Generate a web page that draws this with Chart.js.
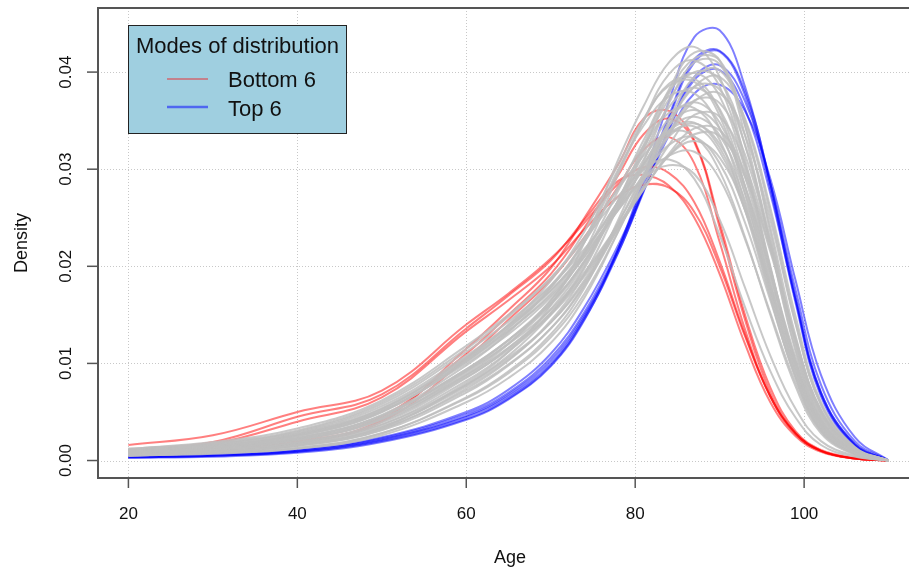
<!DOCTYPE html>
<html>
<head>
<meta charset="utf-8">
<script src="https://cdn.jsdelivr.net/npm/chart.js@4"></script>
<style>
  html, body { margin: 0; padding: 0; background: #fff; overflow: hidden; }
  canvas { display: block; }
</style>
</head>
<body>
<canvas id="plot" width="930" height="569"></canvas>
<script>
// Age grid shared by every density curve
const AGES = [20, 30, 40, 50, 60, 65, 70, 74, 78, 81, 84, 87, 90, 93, 96, 99, 102, 106, 110];

// Remaining groups, drawn in grey underneath
const grayDensities = [
  [.0006,.0009,.0016,.0034,.0080,.0112,.0160,.0225,.0310,.0365,.0410,.0426,.0395,.0310,.0200,.0100,.0036,.0008,.0000],
  [.0006,.0009,.0016,.0034,.0078,.0108,.0150,.0198,.0268,.0325,.0382,.0420,.0412,.0335,.0222,.0112,.0042,.0009,.0000],
  [.0005,.0008,.0013,.0028,.0065,.0092,.0130,.0178,.0248,.0308,.0368,.0410,.0408,.0345,.0240,.0128,.0050,.0011,.0000],
  [.0007,.0011,.0019,.0040,.0088,.0120,.0165,.0215,.0295,.0350,.0398,.0412,.0385,.0305,.0198,.0098,.0036,.0008,.0000],
  [.0005,.0007,.0012,.0026,.0060,.0085,.0121,.0168,.0236,.0292,.0350,.0395,.0402,.0350,.0255,.0142,.0058,.0013,.0000],
  [.0008,.0012,.0021,.0043,.0092,.0124,.0165,.0213,.0278,.0330,.0380,.0399,.0375,.0300,.0198,.0102,.0038,.0008,.0000],
  [.0008,.0013,.0023,.0047,.0098,.0132,.0178,.0225,.0298,.0350,.0388,.0393,.0360,.0282,.0182,.0092,.0034,.0007,.0000],
  [.0006,.0009,.0015,.0031,.0070,.0098,.0136,.0182,.0245,.0296,.0346,.0385,.0382,.0325,.0228,.0122,.0047,.0010,.0000],
  [.0007,.0011,.0019,.0039,.0085,.0116,.0156,.0203,.0266,.0316,.0364,.0384,.0362,.0292,.0195,.0100,.0037,.0008,.0000],
  [.0009,.0014,.0025,.0050,.0102,.0136,.0178,.0228,.0300,.0345,.0375,.0378,.0342,.0265,.0170,.0085,.0031,.0007,.0000],
  [.0006,.0010,.0017,.0035,.0076,.0104,.0142,.0186,.0245,.0292,.0338,.0371,.0368,.0315,.0225,.0124,.0049,.0011,.0000],
  [.0008,.0012,.0021,.0043,.0090,.0121,.0160,.0205,.0264,.0310,.0352,.0369,.0348,.0283,.0192,.0100,.0038,.0008,.0000],
  [.0010,.0015,.0027,.0053,.0106,.0139,.0180,.0225,.0282,.0324,.0358,.0363,.0330,.0258,.0168,.0085,.0031,.0007,.0000],
  [.0007,.0010,.0018,.0037,.0078,.0106,.0142,.0184,.0239,.0283,.0325,.0356,.0354,.0305,.0220,.0123,.0050,.0012,.0000],
  [.0009,.0013,.0023,.0046,.0094,.0124,.0162,.0205,.0260,.0302,.0340,.0354,.0335,.0275,.0190,.0102,.0040,.0009,.0000],
  [.0010,.0015,.0026,.0051,.0102,.0133,.0172,.0214,.0267,.0306,.0340,.0348,.0322,.0262,.0178,.0094,.0036,.0008,.0000],
  [.0008,.0012,.0021,.0042,.0086,.0114,.0150,.0190,.0240,.0279,.0316,.0342,.0340,.0296,.0218,.0125,.0052,.0012,.0000],
  [.0011,.0016,.0028,.0054,.0106,.0137,.0175,.0216,.0267,.0305,.0337,.0344,.0318,.0258,.0175,.0092,.0035,.0008,.0000],
  [.0012,.0018,.0031,.0060,.0115,.0148,.0188,.0230,.0280,.0314,.0338,.0334,.0298,.0230,.0150,.0076,.0028,.0006,.0000],
  [.0010,.0015,.0027,.0053,.0104,.0134,.0170,.0210,.0258,.0294,.0325,.0333,.0306,.0245,.0165,.0086,.0032,.0007,.0000],
  [.0012,.0019,.0033,.0062,.0118,.0150,.0188,.0228,.0272,.0300,.0310,.0290,.0232,.0158,.0092,.0044,.0016,.0004,.0000],
  [.0011,.0017,.0030,.0058,.0112,.0143,.0180,.0218,.0261,.0290,.0304,.0295,.0248,.0178,.0108,.0053,.0020,.0005,.0000],
  [.0009,.0013,.0023,.0046,.0092,.0120,.0155,.0194,.0243,.0280,.0314,.0329,.0312,.0258,.0180,.0098,.0039,.0009,.0000],
  [.0011,.0017,.0029,.0056,.0108,.0139,.0175,.0213,.0258,.0290,.0314,.0318,.0290,.0228,.0152,.0080,.0030,.0007,.0000],
  [.0006,.0009,.0015,.0032,.0074,.0103,.0144,.0192,.0262,.0320,.0378,.0414,.0412,.0345,.0235,.0120,.0045,.0010,.0000],
  [.0007,.0010,.0018,.0037,.0082,.0112,.0152,.0200,.0268,.0322,.0372,.0400,.0392,.0325,.0222,.0115,.0043,.0009,.0000],
  [.0006,.0009,.0016,.0033,.0072,.0099,.0136,.0180,.0240,.0288,.0335,.0370,.0378,.0335,.0248,.0140,.0057,.0013,.0000],
  [.0009,.0013,.0023,.0046,.0094,.0124,.0162,.0206,.0262,.0305,.0345,.0361,.0342,.0282,.0196,.0106,.0042,.0009,.0000],
  [.0008,.0012,.0022,.0044,.0088,.0116,.0152,.0192,.0242,.0280,.0314,.0336,.0334,.0292,.0215,.0124,.0052,.0012,.0000],
  [.0009,.0014,.0025,.0050,.0104,.0140,.0185,.0236,.0305,.0352,.0386,.0390,.0355,.0275,.0175,.0088,.0032,.0007,.0000],
  [.0005,.0008,.0013,.0028,.0064,.0090,.0127,.0172,.0236,.0290,.0345,.0385,.0395,.0352,.0260,.0148,.0060,.0014,.0000],
  [.0010,.0015,.0026,.0051,.0100,.0130,.0168,.0210,.0262,.0300,.0334,.0347,.0326,.0268,.0185,.0100,.0039,.0009,.0000],
];

// Bottom 6 by modal age
const bottomDensities = [
  [.0009,.0010,.0019,.0042,.0115,.0155,.0198,.0250,.0305,.0352,.0360,.0330,.0245,.0150,.0075,.0030,.0011,.0003,.0000],
  [.0010,.0011,.0021,.0045,.0110,.0150,.0192,.0240,.0294,.0336,.0352,.0328,.0240,.0145,.0070,.0028,.0010,.0002,.0000],
  [.0009,.0011,.0018,.0040,.0105,.0145,.0186,.0230,.0282,.0320,.0333,.0306,.0225,.0135,.0066,.0027,.0010,.0002,.0000],
  [.0016,.0026,.0050,.0072,.0140,.0172,.0208,.0245,.0285,.0302,.0296,.0266,.0205,.0130,.0066,.0028,.0010,.0002,.0000],
  [.0011,.0019,.0045,.0068,.0136,.0170,.0206,.0248,.0288,.0294,.0283,.0250,.0192,.0120,.0060,.0025,.0009,.0002,.0000],
  [.0009,.0017,.0040,.0065,.0133,.0165,.0200,.0238,.0272,.0284,.0281,.0256,.0200,.0128,.0066,.0028,.0010,.0002,.0000],
];

// Top 6 by modal age
const topDensities = [
  [.0003,.0004,.0008,.0019,.0042,.0063,.0097,.0145,.0218,.0290,.0370,.0436,.0443,.0385,.0285,.0165,.0068,.0016,.0000],
  [.0003,.0005,.0009,.0021,.0045,.0066,.0100,.0148,.0218,.0285,.0355,.0413,.0422,.0380,.0285,.0168,.0070,.0017,.0000],
  [.0004,.0005,.0009,.0020,.0043,.0064,.0098,.0146,.0214,.0280,.0352,.0410,.0421,.0376,.0280,.0162,.0066,.0015,.0000],
  [.0003,.0005,.0010,.0022,.0046,.0068,.0103,.0150,.0215,.0277,.0342,.0395,.0407,.0370,.0285,.0175,.0078,.0020,.0000],
  [.0004,.0006,.0010,.0023,.0048,.0070,.0106,.0153,.0218,.0278,.0340,.0392,.0402,.0362,.0275,.0165,.0070,.0017,.0000],
  [.0004,.0006,.0011,.0024,.0050,.0073,.0110,.0158,.0222,.0279,.0335,.0378,.0387,.0360,.0290,.0185,.0088,.0024,.0000],
];

const X_TICKS = [20, 40, 60, 80, 100];
const Y_TICKS = [0, 0.01, 0.02, 0.03, 0.04];
const Y_TICK_LABELS = ['0.00', '0.01', '0.02', '0.03', '0.04'];
const LEGEND_TITLE = 'Modes of distribution';
const LEGEND_LABELS = ['Bottom 6', 'Top 6'];

const GRAY = 'rgba(190,190,190,0.85)';
const RED = 'rgba(255,0,0,0.5)';
const BLUE = 'rgba(0,0,255,0.5)';
const FONT = '"Liberation Sans", Arial, Helvetica, sans-serif';

const toPoints = vals => AGES.map((a, i) => ({ x: a, y: vals[i] }));
const makeSet = (vals, color) => ({
  data: toPoints(vals),
  borderColor: color,
  borderWidth: 2,
  pointRadius: 0,
  fill: false,
  tension: 0.4,
});

const datasets = [
  ...grayDensities.map(v => makeSet(v, GRAY)),
  ...bottomDensities.map(v => makeSet(v, RED)),
  ...topDensities.map(v => makeSet(v, BLUE)),
];

// base-graphics style frame: dotted grid, box, outward ticks, titles, legend
const framePlugin = {
  id: 'frame',
  beforeDatasetsDraw(chart) {
    const { ctx, chartArea: a, scales: { x, y } } = chart;
    ctx.save();
    ctx.strokeStyle = '#c8c8c8';
    ctx.lineWidth = 1;
    ctx.setLineDash([1, 2]);
    X_TICKS.forEach(t => {
      const px = Math.round(x.getPixelForValue(t)) + 0.5;
      ctx.beginPath(); ctx.moveTo(px, a.top); ctx.lineTo(px, a.bottom); ctx.stroke();
    });
    Y_TICKS.forEach(t => {
      const py = Math.round(y.getPixelForValue(t)) + 0.5;
      ctx.beginPath(); ctx.moveTo(a.left, py); ctx.lineTo(a.right, py); ctx.stroke();
    });
    ctx.restore();
  },
  afterDatasetsDraw(chart) {
    const { ctx, chartArea: a, scales: { x, y } } = chart;
    ctx.save();

    // box
    ctx.strokeStyle = '#555';
    ctx.lineWidth = 2;
    ctx.strokeRect(a.left, a.top, a.right - a.left, a.bottom - a.top);

    // ticks
    ctx.lineWidth = 1.5;
    ctx.fillStyle = '#111';
    ctx.font = `17px ${FONT}`;
    ctx.textAlign = 'center';
    ctx.textBaseline = 'alphabetic';
    X_TICKS.forEach(t => {
      const px = x.getPixelForValue(t);
      ctx.beginPath(); ctx.moveTo(px, a.bottom); ctx.lineTo(px, a.bottom + 10); ctx.stroke();
      ctx.fillText(String(t), px, 519);
    });
    Y_TICKS.forEach((t, i) => {
      const py = y.getPixelForValue(t);
      ctx.beginPath(); ctx.moveTo(a.left - 11, py); ctx.lineTo(a.left, py); ctx.stroke();
      ctx.save();
      ctx.translate(70.5, py);
      ctx.rotate(-Math.PI / 2);
      ctx.fillText(Y_TICK_LABELS[i], 0, 0);
      ctx.restore();
    });

    // axis titles
    ctx.font = `18px ${FONT}`;
    ctx.fillText('Age', 510, 563);
    ctx.save();
    ctx.translate(27, (a.top + a.bottom) / 2);
    ctx.rotate(-Math.PI / 2);
    ctx.fillText('Density', 0, 0);
    ctx.restore();

    // legend
    const lx = 128.5, ly = 25.5, lw = 218, lh = 108;
    ctx.fillStyle = '#9fcfe0';
    ctx.fillRect(lx, ly, lw, lh);
    ctx.strokeStyle = '#222';
    ctx.lineWidth = 1;
    ctx.strokeRect(lx, ly, lw, lh);

    ctx.fillStyle = '#111';
    ctx.font = `22px ${FONT}`;
    ctx.textAlign = 'center';
    ctx.fillText(LEGEND_TITLE, lx + lw / 2, 53);

    ctx.textAlign = 'left';
    const rows = [{ color: RED, width: 1.5, lineY: 79, textY: 87 },
                  { color: BLUE, width: 2.5, lineY: 107, textY: 116 }];
    rows.forEach((r, i) => {
      ctx.strokeStyle = r.color;
      ctx.lineWidth = r.width;
      ctx.beginPath(); ctx.moveTo(167, r.lineY); ctx.lineTo(208, r.lineY); ctx.stroke();
      ctx.fillText(LEGEND_LABELS[i], 228, r.textY);
    });

    ctx.restore();
  },
};

new Chart(document.getElementById('plot'), {
  type: 'line',
  data: { datasets },
  options: {
    responsive: false,
    animation: false,
    devicePixelRatio: 1,
    layout: { padding: { left: 98, top: 8, right: 11, bottom: 91 } },
    scales: {
      x: { type: 'linear', min: 16.4, max: 113.6, display: false },
      y: { type: 'linear', min: -0.0018, max: 0.0466, display: false },
    },
    plugins: {
      legend: { display: false },
      tooltip: { enabled: false },
    },
  },
  plugins: [framePlugin],
});
</script>
</body>
</html>
